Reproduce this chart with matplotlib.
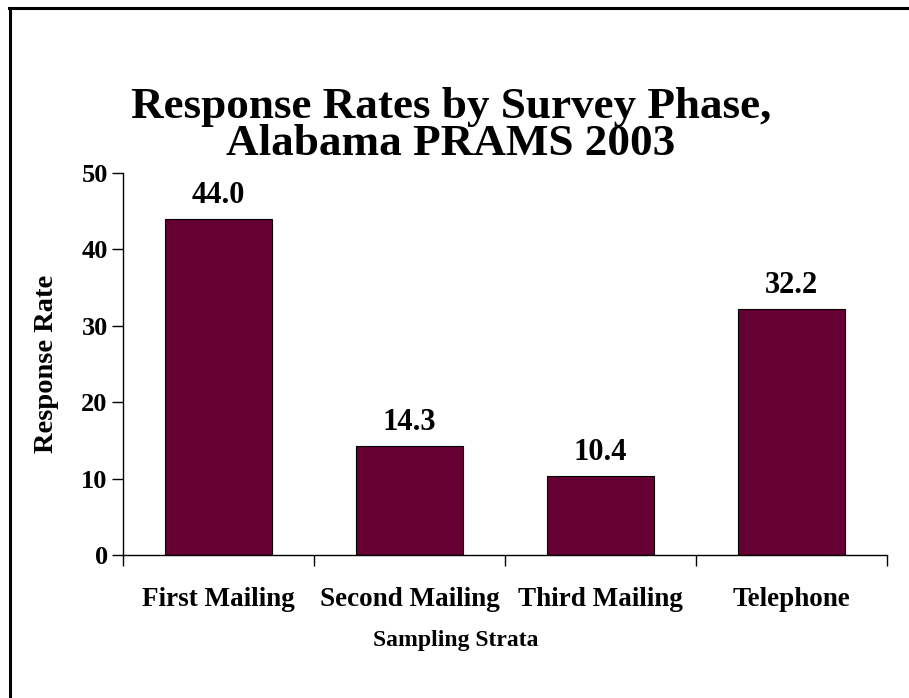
import numpy as np
import matplotlib.pyplot as plt
from matplotlib.lines import Line2D

## Daten
phases = ['First Mailing', 'Second Mailing', 'Third Mailing', 'Telephone']
rates = [44.0, 14.3, 10.4, 32.2]
yticks = [0, 10, 20, 30, 40, 50]
title_lines = ['Response Rates by Survey Phase,', 'Alabama PRAMS 2003']

plt.rcParams['font.family'] = ['Liberation Serif', 'DejaVu Serif']
plt.rcParams['font.weight'] = 'bold'

W, H = 909, 698
fig = plt.figure(figsize=(W / 100, H / 100), dpi=100)
ax = fig.add_axes([123 / W, 1 - 555 / H, (887 - 123) / W, (555 - 173) / H])

x = np.arange(len(phases))
ax.bar(x, rates, width=0.555, color='#660033', edgecolor='black', linewidth=0.8)

# Werte ueber den Balken
for xi, r in zip(x, rates):
    ax.annotate('%.1f' % r, (xi, r), xytext=(0, 11.5), textcoords='offset points',
                ha='center', va='baseline', fontsize=22, fontweight='bold')

ax.set_xlim(-0.5, len(phases) - 0.5)
ax.set_ylim(0, 50)
ax.set_yticks(yticks)
ax.set_yticklabels([str(t) for t in yticks], fontsize=19, fontweight='bold')

# Kategorie-Labels ohne Ticks, Ticks an den Grenzen
ax.set_xticks(x)
ax.set_xticklabels(phases, fontsize=19.5, fontweight='bold')
ax.tick_params(axis='x', which='major', length=0, pad=23)
ax.set_xticks(np.arange(len(phases) + 1) - 0.5, minor=True)
ax.tick_params(axis='x', which='minor', length=8, width=1, direction='out')
ax.tick_params(axis='y', length=8, width=1, direction='out', pad=3)

for s in ['top', 'right']:
    ax.spines[s].set_visible(False)
ax.spines['left'].set_linewidth(1)
ax.spines['bottom'].set_linewidth(1)

ax.set_xlabel('Sampling Strata', fontsize=17, fontweight='bold', va='top')
ax.xaxis.set_label_coords((456 - 123) / 764, -(630 - 555) / 382)
ax.set_ylabel('Response Rate', fontsize=20.5, fontweight='bold')
ax.yaxis.set_label_coords(-(123 - 59) / 764, 0.5)

# Titel, zwei Zeilen mit engem Abstand
fig.text(451 / W, 1 - 118 / H, title_lines[0], ha='center', va='baseline',
         fontsize=32.5, fontweight='bold')
fig.text(451 / W, 1 - 155 / H, title_lines[1], ha='center', va='baseline',
         fontsize=32.5, fontweight='bold')

# Rahmen (nur oben und links sichtbar)
fig.add_artist(Line2D([9.5 / W, 9.5 / W], [0, 1 - 7.5 / H], color='black', lw=2.2,
                      transform=fig.transFigure))
fig.add_artist(Line2D([8.5 / W, 1], [1 - 7.5 / H, 1 - 7.5 / H], color='black', lw=2.2,
                      transform=fig.transFigure))

plt.savefig('out.png', dpi=100)
